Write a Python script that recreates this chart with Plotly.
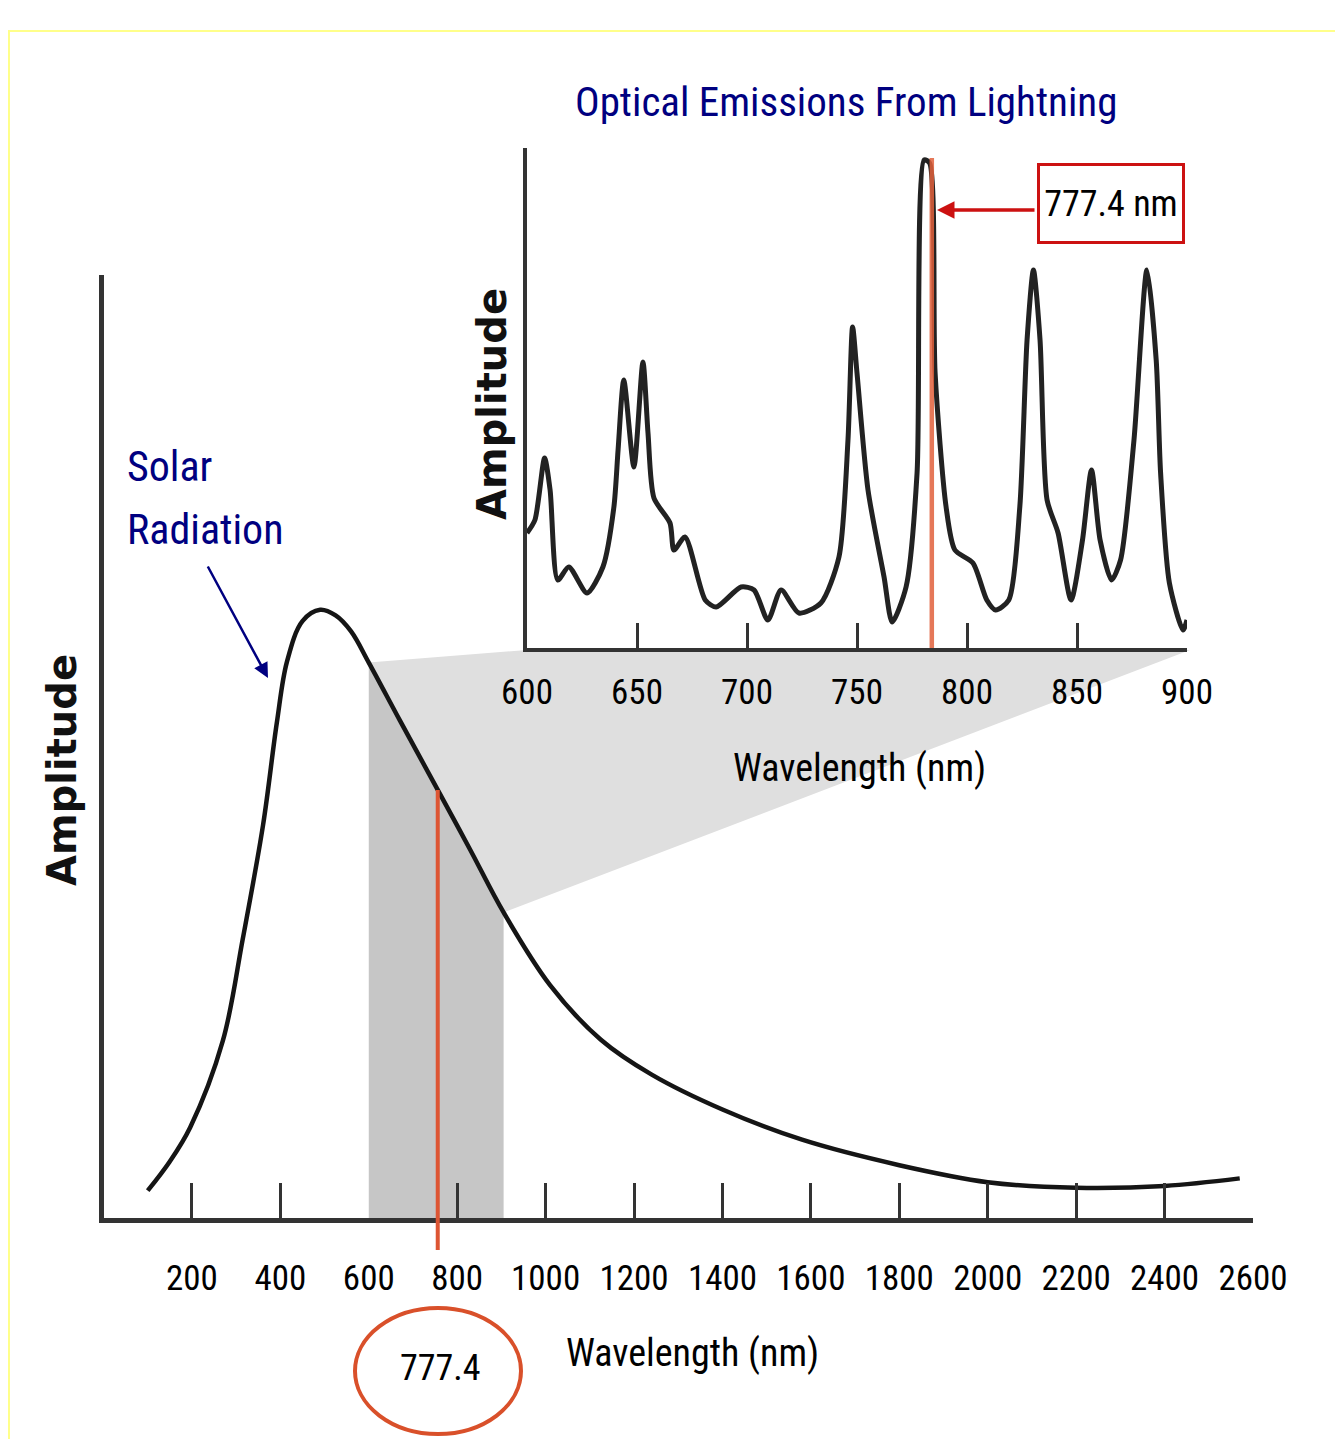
import numpy as np
import plotly.graph_objects as go

# page geometry: the page body adds an 8px margin, so the figure is sized to fit
PAGE_W, PAGE_H, OFF = 1343, 1439, 8
W, H = PAGE_W - OFF, PAGE_H - OFF

# ---------------- data ----------------
solar_nm = [100, 150, 196, 270, 315, 361, 392, 415, 450, 490, 525, 560, 600,
            670, 756, 830, 905, 1010, 1125, 1240, 1400, 1580, 1800, 2000, 2200, 2400, 2570]
solar_amp = [2.9, 6.0, 9.6, 18.8, 29.6, 41.7, 52.5, 59.0, 63.3, 64.5, 63.9, 62.2, 58.9,
             52.8, 45.4, 39.0, 32.4, 24.7, 18.9, 15.2, 11.5, 8.3, 5.6, 3.8, 3.2, 3.4, 4.2]

spec_nm = [600, 603.6, 608, 610.5, 614, 619, 627.3, 634.5, 639.5, 641.4, 644, 648.6, 652.7,
           655, 657.7, 665, 666.8, 671.8, 681, 686, 697.3, 703.2, 709.5, 715.5, 723.6, 733.6,
           741.8, 745.9, 748, 750, 755, 762.3, 766, 772.3, 777.3, 780.5, 783, 785.5, 790.5,
           794.5, 802.7, 809, 813, 819, 824, 827.3, 830.2, 833.2, 836.4, 841.4, 847.3, 852.5,
           856.6, 860.5, 865.7, 869.8, 875.9, 881.8, 886, 888, 892, 898.2, 900]
spec_amp = [23, 25.6, 38, 31.6, 13.6, 16.2, 11, 16.2, 28.2, 39.6, 53.6, 36.2, 57.2,
            43.0, 30.0, 25, 19.6, 22.2, 9.6, 8.2, 12.2, 11.6, 5.6, 11.6, 7, 9,
            18.2, 41.6, 64.2, 55, 31.6, 14.2, 5.2, 12.2, 35, 97.6, 97, 55, 28.2,
            19.6, 17, 9.6, 7.6, 9.6, 28.2, 61.6, 75.6, 61.6, 29.6, 23, 9.6, 21.6,
            35.6, 21.6, 13.6, 17.6, 41.6, 75.6, 57.6, 35, 13, 3.6, 5.6]

main_tick_labels = [200, 400, 600, 800, 1000, 1200, 1400, 1600, 1800, 2000, 2200, 2400, 2600]
main_tick_marks = [200, 400, 800, 1000, 1200, 1400, 1600, 1800, 2000, 2200, 2400]
inset_tick_labels = [600, 650, 700, 750, 800, 850, 900]
inset_tick_marks = [650, 700, 750, 800, 850]

band_lo, band_hi = 600, 905
marker_main_nm = 756
marker_inset_nm = 784
marker_inset_top = 98
marker_text = "777.4"
marker_box_text = "777.4 nm"

# ---------------- layout geometry (page pixels) ----------------
MAIN_L, MAIN_R, MAIN_B, MAIN_T = 103.5, 1253, 1218, 275
INS_L, INS_R, INS_B, INS_T = 527, 1187, 648, 148
MAIN_XR, MAIN_YR = [0, 2600], [0, 100]
INS_XR, INS_YR = [600, 900], [0, 100]


def px(x):
    return (x - OFF) / W


def py(y):
    return 1 - (y - OFF) / H


def main_x_from_px(p):
    return MAIN_XR[0] + (p - MAIN_L) / (MAIN_R - MAIN_L) * (MAIN_XR[1] - MAIN_XR[0])


def main_y_from_px(p):
    return MAIN_YR[0] + (MAIN_B - p) / (MAIN_B - MAIN_T) * (MAIN_YR[1] - MAIN_YR[0])


FN = "Roboto Condensed, Liberation Sans, sans-serif"
FB = "DejaVu Sans, Arial, sans-serif"
NAVY = "#000080"
AX = "#333333"

s_nm = np.array(solar_nm, dtype=float)
s_amp = np.array(solar_amp, dtype=float)
mask = (s_nm >= band_lo) & (s_nm <= band_hi)
band_x = list(s_nm[mask])
band_y = list(s_amp[mask])

ins_bottom = main_y_from_px(INS_B + 2)
wedge_x = [band_x[0], main_x_from_px(INS_L), main_x_from_px(INS_R + 3), band_x[-1]] + band_x[::-1]
wedge_y = [band_y[0], ins_bottom, ins_bottom, band_y[-1]] + band_y[::-1]

fig = go.Figure()

fig.add_trace(go.Scatter(x=wedge_x, y=wedge_y, fill="toself", fillcolor="#dfdfdf",
                         line=dict(width=0), mode="lines", hoverinfo="skip",
                         xaxis="x", yaxis="y"))
fig.add_trace(go.Scatter(x=band_x, y=band_y, fill="tozeroy", fillcolor="#c6c6c6",
                         line=dict(width=0, shape="spline"), mode="lines",
                         hoverinfo="skip", xaxis="x", yaxis="y"))
fig.add_trace(go.Scatter(x=solar_nm, y=solar_amp, mode="lines",
                         line=dict(color="#151515", width=4.5, shape="spline", smoothing=1.0),
                         xaxis="x", yaxis="y"))
fig.add_trace(go.Scatter(x=spec_nm, y=spec_amp, mode="lines",
                         line=dict(color="#222222", width=5, shape="spline", smoothing=0.7),
                         xaxis="x2", yaxis="y2"))
fig.add_trace(go.Scatter(x=[], y=[], xaxis="x3", yaxis="y"))
fig.add_trace(go.Scatter(x=[], y=[], xaxis="x4", yaxis="y2"))

main_dom_x = [px(MAIN_L), px(MAIN_R)]
main_dom_y = [py(MAIN_B), py(MAIN_T)]
ins_dom_x = [px(INS_L), px(INS_R)]
ins_dom_y = [py(INS_B), py(INS_T)]

tickfont = dict(family=FN, size=35, color="#000000")

fig.update_layout(
    width=W, height=H, autosize=False,
    margin=dict(l=0, r=0, t=0, b=0, pad=0),
    paper_bgcolor="white", plot_bgcolor="rgba(0,0,0,0)",
    showlegend=False,
    xaxis=dict(domain=main_dom_x, range=MAIN_XR, anchor="y", showline=True,
               linecolor=AX, linewidth=5, ticks="", tickvals=main_tick_labels,
               tickfont=tickfont, tickangle=0, automargin=False, showgrid=False,
               zeroline=False, ticklabelstandoff=25),
    yaxis=dict(domain=main_dom_y, range=MAIN_YR, anchor="x", showline=True,
               linecolor=AX, linewidth=5, ticks="", showticklabels=False,
               automargin=False, showgrid=False, zeroline=False),
    xaxis3=dict(overlaying="x", range=MAIN_XR, anchor="y", showline=False,
                ticks="inside", ticklen=35, tickwidth=3, tickcolor=AX,
                tickvals=main_tick_marks, showticklabels=False, automargin=False,
                showgrid=False, zeroline=False),
    xaxis2=dict(domain=ins_dom_x, range=INS_XR, anchor="y2", showline=True,
                linecolor=AX, linewidth=4, ticks="", tickvals=inset_tick_labels,
                tickfont=tickfont, tickangle=0, automargin=False, showgrid=False,
                zeroline=False, ticklabelstandoff=10),
    yaxis2=dict(domain=ins_dom_y, range=INS_YR, anchor="x2", showline=True,
                linecolor=AX, linewidth=4, ticks="", showticklabels=False,
                automargin=False, showgrid=False, zeroline=False),
    xaxis4=dict(overlaying="x2", range=INS_XR, anchor="y2", showline=False,
                ticks="inside", ticklen=25, tickwidth=3, tickcolor=AX,
                tickvals=inset_tick_marks, showticklabels=False, automargin=False,
                showgrid=False, zeroline=False),
)

marker_main_top = float(np.interp(marker_main_nm, s_nm, s_amp))
shapes = [
    dict(type="line", xref="paper", yref="paper", x0=px(8), x1=1, y0=py(31), y1=py(31),
         line=dict(color="#ffff8a", width=2)),
    dict(type="line", xref="paper", yref="paper", x0=px(9), x1=px(9), y0=py(31), y1=0,
         line=dict(color="#ffff8a", width=2)),
    dict(type="line", xref="x", yref="y domain", x0=marker_main_nm, x1=marker_main_nm,
         y0=-32 / (MAIN_B - MAIN_T), y1=marker_main_top / (MAIN_YR[1] - MAIN_YR[0]),
         line=dict(color="#dd5533", width=4)),
    dict(type="line", xref="x2", yref="y2", x0=marker_inset_nm, x1=marker_inset_nm,
         y0=0, y1=marker_inset_top, line=dict(color="rgba(224,96,60,0.85)", width=4.5)),
    dict(type="circle", xref="paper", yref="paper", x0=px(355), x1=px(521),
         y0=py(1434), y1=py(1308), line=dict(color="#d9502a", width=4)),
]
fig.update_layout(shapes=shapes)

annotations = [
    dict(text="Optical Emissions From Lightning", x=px(846), y=py(102), xref="paper",
         yref="paper", showarrow=False, xanchor="center", yanchor="middle",
         font=dict(family=FN, size=41, color=NAVY)),
    dict(text="Solar", x=px(125), y=py(467), xref="paper", yref="paper", showarrow=False,
         xanchor="left", yanchor="middle", font=dict(family=FN, size=42, color=NAVY)),
    dict(text="Radiation", x=px(125), y=py(530), xref="paper", yref="paper",
         showarrow=False, xanchor="left", yanchor="middle",
         font=dict(family=FN, size=42, color=NAVY)),
    dict(text="", x=px(268), y=py(678), xref="paper", yref="paper", showarrow=True,
         ax=-61, ay=-113, arrowcolor=NAVY, arrowwidth=2.5, arrowhead=2, arrowsize=1.2),
    dict(text=marker_box_text, x=px(1111), y=py(203), xref="paper", yref="paper",
         showarrow=False, xanchor="center", yanchor="middle", bordercolor="#cc1111",
         borderwidth=3, borderpad=2, width=138, height=71, bgcolor="white",
         font=dict(family=FN, size=36, color="#000000")),
    dict(text="", x=px(937), y=py(210), xref="paper", yref="paper", showarrow=True,
         ax=99, ay=0, arrowcolor="#cc1111", arrowwidth=3.5, arrowhead=2, arrowsize=1.0),
    dict(text=marker_text, x=px(440), y=py(1368), xref="paper", yref="paper",
         showarrow=False, xanchor="center", yanchor="middle",
         font=dict(family=FN, size=36, color="#000000")),
    dict(text="Wavelength (nm)", x=px(692), y=py(1353), xref="paper", yref="paper",
         showarrow=False, xanchor="center", yanchor="middle",
         font=dict(family=FN, size=38, color="#000000")),
    dict(text="Wavelength (nm)", x=px(859), y=py(768), xref="paper", yref="paper",
         showarrow=False, xanchor="center", yanchor="middle",
         font=dict(family=FN, size=38, color="#000000")),
    dict(text="<b>Amplitude</b>", x=px(62), y=py(770), xref="paper", yref="paper",
         showarrow=False, xanchor="center", yanchor="middle", textangle=-90,
         font=dict(family=FB, size=40, color="#111111")),
    dict(text="<b>Amplitude</b>", x=px(492), y=py(404), xref="paper", yref="paper",
         showarrow=False, xanchor="center", yanchor="middle", textangle=-90,
         font=dict(family=FB, size=40, color="#111111")),
]
fig.update_layout(annotations=annotations)

fig.write_html("out.html")
